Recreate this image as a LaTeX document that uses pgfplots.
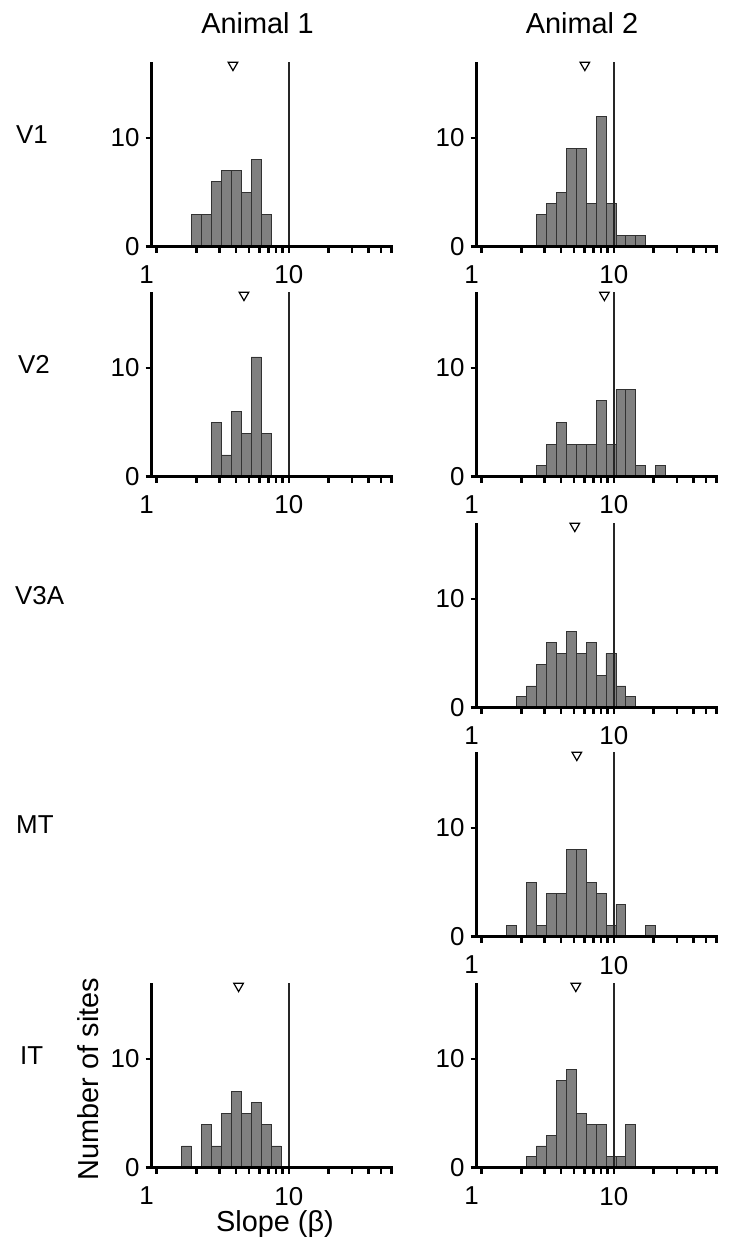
\documentclass[border=0pt]{standalone}
\usepackage{fontspec}
\setmainfont{Liberation Sans}
\usepackage{pgfplots}
\pgfplotsset{compat=1.18}
\definecolor{barfill}{RGB}{128,128,128}
\definecolor{baredge}{RGB}{50,50,50}
\pgfplotsset{
  /pgfplots/mypanel/.style={
    scale only axis, width=241.3bp, height=185bp,
    xmin=0.917, xmax=61.5, ymin=0, ymax=17,
    axis lines*=left, axis line style={line width=2.8bp, black},
    xtick={1,10}, xticklabels={{\kern-10bp 1\kern10bp},10},
    ytick={0,10}, yticklabels={0,10},
    minor xtick={2,3,4,5,6,7,8,9,20,30,40,50,60},
    tick align=outside, major tick length=6bp, minor tick length=6bp,
    every tick/.style={black, line width=2.5bp},
    tick label style={font=\fontsize{26}{30}\selectfont, inner sep=0pt},
    xticklabel style={yshift=-13bp},
    yticklabel style={xshift=-6bp},
    clip=false, axis on top,
    anchor=south west,
  },
  /pgfplots/bars/.style={ybar, bar width=9.94bp, bar shift=0pt, fill=barfill, draw=baredge, line width=0.8bp},
  /pgfplots/refline/.style={line width=1.6bp, black!85},
  /pgfplots/tri/.style={only marks, mark=triangle, mark size=5.6bp, mark options={rotate=180, fill=white, draw=black, line width=1.2bp}},
}
\begin{document}
\begin{tikzpicture}
\useasboundingbox (0,0) rectangle (730bp,-1242bp);
% ---------- Animal 1, V1
\begin{axis}[xmode=log, mypanel, at={(151.7bp,-246.7bp)}]
\addplot[bars] coordinates {(2,3)(2.378414,3)(2.828427,6)(3.363586,7)(4,7)(4.756828,5)(5.656854,8)(6.727171,3)};
\addplot[refline] coordinates {(10,0)(10,17)};
\addplot[tri] coordinates {(3.78,16.7)};
\end{axis}
% ---------- Animal 2, V1
\begin{axis}[xmode=log, mypanel, at={(476.7bp,-246.7bp)}]
\addplot[bars] coordinates {(2.828427,3)(3.363586,4)(4,5)(4.756828,9)(5.656854,9)(6.727171,4)(8,12)(9.513657,4)(11.313708,1)(13.454343,1)(16,1)};
\addplot[refline] coordinates {(10,0)(10,17)};
\addplot[tri] coordinates {(6.04,16.7)};
\end{axis}
% ---------- Animal 1, V2
\begin{axis}[xmode=log, mypanel, at={(151.7bp,-476.7bp)}]
\addplot[bars] coordinates {(2.828427,5)(3.363586,2)(4,6)(4.756828,4)(5.656854,11)(6.727171,4)};
\addplot[refline] coordinates {(10,0)(10,17)};
\addplot[tri] coordinates {(4.58,16.7)};
\end{axis}
% ---------- Animal 2, V2
\begin{axis}[xmode=log, mypanel, at={(476.7bp,-476.7bp)}]
\addplot[bars] coordinates {(2.828427,1)(3.363586,3)(4,5)(4.756828,3)(5.656854,3)(6.727171,3)(8,7)(9.513657,3)(11.313708,8)(13.454343,8)(16,1)(22.627417,1)};
\addplot[refline] coordinates {(10,0)(10,17)};
\addplot[tri] coordinates {(8.49,16.7)};
\end{axis}
% ---------- Animal 2, V3A
\begin{axis}[xmode=log, mypanel, at={(476.7bp,-707.7bp)}]
\addplot[bars] coordinates {(2,1)(2.378414,2)(2.828427,4)(3.363586,6)(4,5)(4.756828,7)(5.656854,5)(6.727171,6)(8,3)(9.513657,5)(11.313708,2)(13.454343,1)};
\addplot[refline] coordinates {(10,0)(10,17)};
\addplot[tri] coordinates {(5.07,16.7)};
\end{axis}
% ---------- Animal 2, MT
\begin{axis}[xmode=log, mypanel, at={(476.7bp,-936.7bp)}]
\addplot[bars] coordinates {(1.681793,1)(2.378414,5)(2.828427,1)(3.363586,4)(4,4)(4.756828,8)(5.656854,8)(6.727171,5)(8,4)(9.513657,1)(11.313708,3)(19.027314,1)};
\addplot[refline] coordinates {(10,0)(10,17)};
\addplot[tri] coordinates {(5.25,16.7)};
\end{axis}
% ---------- Animal 1, IT
\begin{axis}[xmode=log, mypanel, at={(151.7bp,-1167.7bp)}]
\addplot[bars] coordinates {(1.681793,2)(2.378414,4)(2.828427,2)(3.363586,5)(4,7)(4.756828,5)(5.656854,6)(6.727171,4)(8,2)};
\addplot[refline] coordinates {(10,0)(10,17)};
\addplot[tri] coordinates {(4.17,16.7)};
\end{axis}
% ---------- Animal 2, IT
\begin{axis}[xmode=log, mypanel, at={(476.7bp,-1167.7bp)}]
\addplot[bars] coordinates {(2.378414,1)(2.828427,2)(3.363586,3)(4,8)(4.756828,9)(5.656854,5)(6.727171,4)(8,4)(9.513657,1)(11.313708,1)(13.454343,4)};
\addplot[refline] coordinates {(10,0)(10,17)};
\addplot[tri] coordinates {(5.16,16.7)};
\end{axis}
% ---------- texts
\begin{scope}[every node/.style={inner sep=0pt}]
\node[anchor=base, font=\fontsize{29}{34}\selectfont] at (257.5bp,-33bp) {Animal 1};
\node[anchor=base, font=\fontsize{29}{34}\selectfont] at (582bp,-33bp) {Animal 2};
\node[anchor=base west, font=\fontsize{26}{30}\selectfont] at (16bp,-143.2bp) {V1};
\node[anchor=base west, font=\fontsize{26}{30}\selectfont] at (18bp,-373.2bp) {V2};
\node[anchor=base west, font=\fontsize{26}{30}\selectfont] at (15bp,-604.2bp) {V3A};
\node[anchor=base west, font=\fontsize{26}{30}\selectfont] at (16bp,-833.2bp) {MT};
\node[anchor=base west, font=\fontsize{26}{30}\selectfont] at (20bp,-1064.2bp) {IT};
\node[anchor=base, font=\fontsize{29}{34}\selectfont] at (275bp,-1231bp) {Slope (β)};
\node[anchor=base, rotate=90, font=\fontsize{29}{34}\selectfont] at (98bp,-1079bp) {Number of sites};
\end{scope}
\end{tikzpicture}
\end{document}
